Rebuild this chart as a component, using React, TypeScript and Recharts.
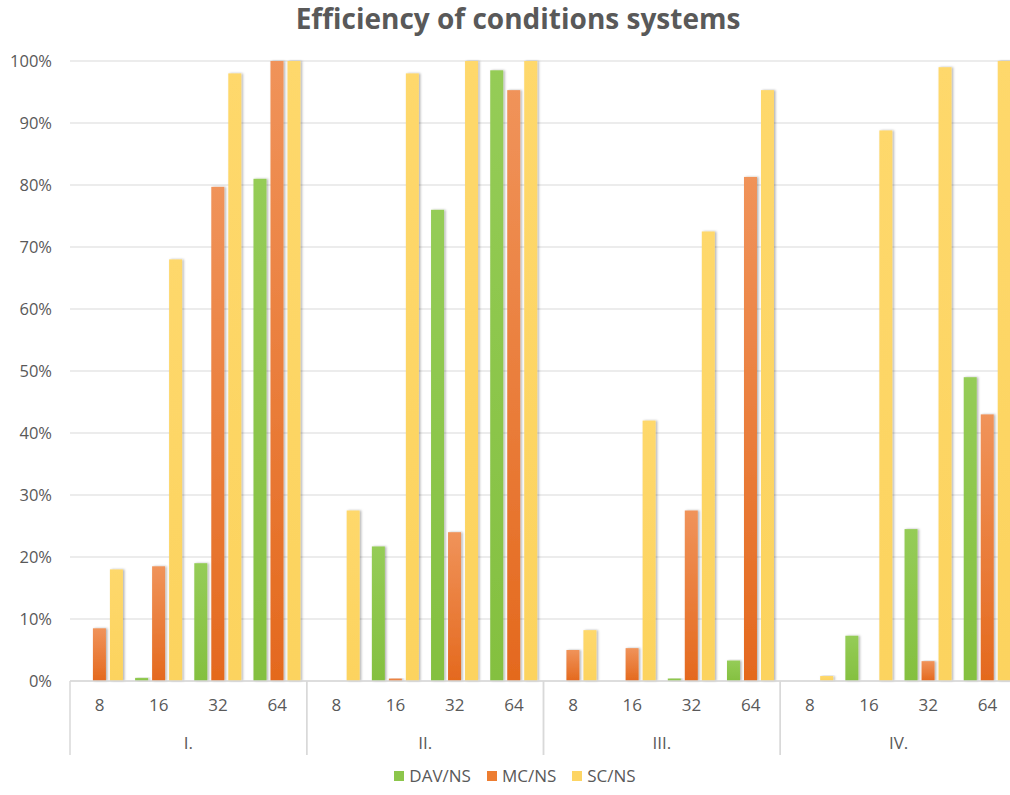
import React from 'react'
import { BarChart, Bar, XAxis, YAxis, CartesianGrid } from 'recharts'

const groups = ['I.', 'II.', 'III.', 'IV.']
const sizes = ['8', '16', '32', '64']
const davNs = [0, 0.005, 0.19, 0.81, 0, 0.217, 0.76, 0.985, 0, 0, 0.004, 0.033, 0, 0.073, 0.245, 0.49]
const mcNs = [0.085, 0.185, 0.797, 1.0, 0, 0.004, 0.24, 0.953, 0.05, 0.053, 0.275, 0.813, 0, 0, 0.032, 0.43]
const scNs = [0.18, 0.68, 0.98, 1.0, 0.275, 0.98, 1.0, 1.0, 0.082, 0.42, 0.725, 0.953, 0.008, 0.888, 0.99, 1.0]
const yTicks = [0, 0.1, 0.2, 0.3, 0.4, 0.5, 0.6, 0.7, 0.8, 0.9, 1.0]

const data = davNs.map((v, i) => ({
    group: groups[Math.floor(i / sizes.length)],
    size: sizes[i % sizes.length],
    dav: v,
    mc: mcNs[i],
    sc: scNs[i],
}))

const CHART_W = 1030
const CHART_H = 795
const Y_AXIS_W = 70
const MARGIN = { top: 61, right: 13, left: 0, bottom: 34 }
const X_AXIS_H = 80
const PLOT_W = CHART_W - Y_AXIS_W - MARGIN.left - MARGIN.right
const CAT_W = PLOT_W / data.length
const AXIS_Y = CHART_H - MARGIN.bottom - X_AXIS_H

const textColor = '#595959'
const font = '"Open Sans", "Noto Sans", sans-serif'

const series = [
    { key: 'dav', name: 'DAV/NS', color: '#8cc64b', top: '#95cc57', bottom: '#84c040' },
    { key: 'mc', name: 'MC/NS', color: '#ed7d31', top: '#f0935a', bottom: '#e4691e' },
    { key: 'sc', name: 'SC/NS', color: '#fdd564', top: '#fed86c', bottom: '#fcd35e' },
]

function CategoryTick(props: any) {
    const { x, index, payload } = props
    const pos = index % sizes.length
    const row = data[index]
    return (
        <g>
            <text x={x} y={AXIS_Y + 30} textAnchor="middle" fill={textColor} fontSize={17} fontFamily={font}>
                {payload.value}
            </text>
            {pos === 0 && (
                <line x1={x - CAT_W / 2} x2={x - CAT_W / 2} y1={AXIS_Y} y2={AXIS_Y + 74} stroke="#d9d9d9" strokeWidth={1.5} />
            )}
            {pos === sizes.length - 1 && (
                <line x1={x + CAT_W / 2} x2={x + CAT_W / 2} y1={AXIS_Y} y2={AXIS_Y + 74} stroke="#d9d9d9" strokeWidth={1.5} />
            )}
            {pos === 1 && (
                <text x={x + CAT_W / 2} y={AXIS_Y + 68} textAnchor="middle" fill={textColor} fontSize={17} fontFamily={font}>
                    {row.group}
                </text>
            )}
        </g>
    )
}

function ShadowBar(props: any) {
    const { x, y, width, height, fill } = props
    if (!height || height <= 0) return null
    return <rect x={x} y={y} width={width} height={height} fill={fill} filter="url(#barShadow)" />
}

export default function App() {
    return (
        <div style={{ position: 'absolute', left: 0, top: 0, width: 1010, height: 795, overflow: 'hidden', background: '#fff' }}>
            <div
                style={{
                    position: 'absolute',
                    top: 0,
                    left: 13,
                    width: 1010,
                    textAlign: 'center',
                    fontFamily: font,
                    fontWeight: 700,
                    fontSize: 28,
                    color: textColor,
                    lineHeight: '36px',
                }}
            >
                Efficiency of conditions systems
            </div>
            <BarChart
                width={CHART_W}
                height={CHART_H}
                data={data}
                margin={MARGIN}
                barCategoryGap="10%"
                barGap={4}
            >
                <defs>
                    {series.map((s) => (
                        <linearGradient key={s.key} id={`grad-${s.key}`} x1="0" y1="0" x2="0" y2="1">
                            <stop offset="0%" stopColor={s.top} />
                            <stop offset="100%" stopColor={s.bottom} />
                        </linearGradient>
                    ))}
                    <filter id="barShadow" x="-30%" y="-5%" width="160%" height="110%">
                        <feDropShadow dx={1.5} dy={0} stdDeviation={1.2} floodColor="#000" floodOpacity={0.3} />
                    </filter>
                </defs>
                <CartesianGrid vertical={false} stroke="#d9d9d9" strokeWidth={1.2} />
                <XAxis
                    dataKey="size"
                    height={X_AXIS_H}
                    tickLine={false}
                    axisLine={{ stroke: '#d9d9d9', strokeWidth: 1.5 }}
                    interval={0}
                    tick={<CategoryTick />}
                />
                <YAxis
                    width={Y_AXIS_W}
                    domain={[0, 1]}
                    ticks={yTicks}
                    axisLine={false}
                    tickLine={false}
                    tickMargin={12}
                    tickFormatter={(v: number) => `${Math.round(v * 100)}%`}
                    tick={{ fill: textColor, fontSize: 16.5, fontFamily: font }}
                />
                {series.map((s) => (
                    <Bar
                        key={s.key}
                        dataKey={s.key}
                        name={s.name}
                        fill={`url(#grad-${s.key})`}
                        shape={<ShadowBar />}
                        isAnimationActive={false}
                    />
                ))}
            </BarChart>
            <div
                style={{
                    position: 'absolute',
                    top: 764,
                    left: 10,
                    width: 1010,
                    display: 'flex',
                    justifyContent: 'center',
                    gap: 16,
                    fontFamily: font,
                    fontSize: 17,
                    color: textColor,
                }}
            >
                {series.map((s) => (
                    <div key={s.key} style={{ display: 'flex', alignItems: 'center' }}>
                        <div style={{ width: 10, height: 10, background: s.color, marginRight: 5 }} />
                        <span>{s.name}</span>
                    </div>
                ))}
            </div>
        </div>
    )
}
